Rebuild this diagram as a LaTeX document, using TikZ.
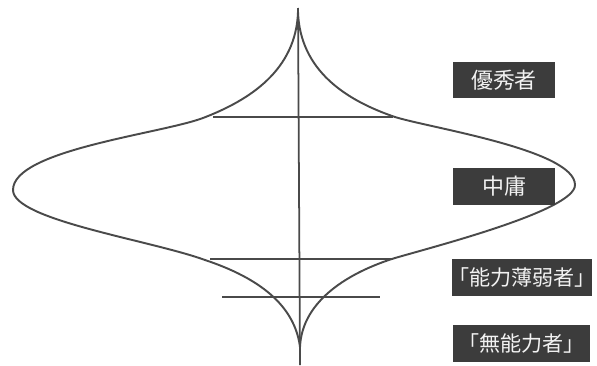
\documentclass[tikz,border=0pt]{standalone}
\usepackage{fontspec}
\newfontfamily\jpfont{Noto Sans CJK JP}
\newfontfamily\jphalf[RawFeature=+halt]{Noto Sans CJK JP}
\definecolor{ink}{HTML}{4A4A4A}
\definecolor{tagfill}{HTML}{3C3C3C}

\begin{document}
\begin{tikzpicture}[x=0.02cm,y=-0.02cm,
  tag/.style={fill=tagfill,text=white!95!black,inner sep=0pt,minimum height=0.74cm,
    font=\jpfont\fontsize{12.5}{13}\selectfont},
  bracket tag/.style={tag,font=\jphalf\fontsize{12}{13}\selectfont}]
\useasboundingbox (0,0) rectangle (597,365);
% axis and the three levels
\draw[line width=1pt,draw=ink] (298,8) -- (300,365);
\draw[line width=1pt,draw=ink] (213,117) -- (393,117);
\draw[line width=1pt,draw=ink] (210,259) -- (393,259);
\draw[line width=1pt,draw=ink] (222,297) -- (380,297);
% left half of the spindle
\draw[line width=1.1pt,draw=ink] (298,12) .. controls (296,70) and (250,100) .. (203,118)
  .. controls (160,134) and (13,150) .. (13,190)
  .. controls (13,220) and (150,240) .. (205,260)
  .. controls (250,275) and (294,300) .. (300,347);
% right half of the spindle
\draw[line width=1.1pt,draw=ink] (298,12) .. controls (300,70) and (345,100) .. (395,117)
  .. controls (430,128) and (575,150) .. (575,185)
  .. controls (575,210) and (440,245) .. (395,258)
  .. controls (350,272) and (302,300) .. (300,347);
% labels
\node[tag,minimum width=2.04cm] (top) at (504,80) {優秀者};
\node[tag,minimum width=2.04cm] (mid) at (504,186) {中庸};
\node[bracket tag,minimum width=2.8cm] (weak) at (522,277.5) {「能力薄弱者」};
\node[bracket tag,minimum width=2.74cm] (none) at (521.5,343.5) {「無能力者」};
\end{tikzpicture}
\end{document}
